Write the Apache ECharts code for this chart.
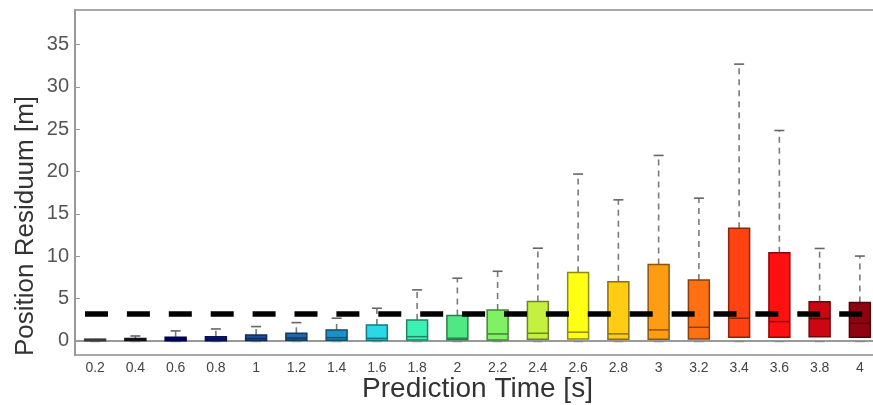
<!DOCTYPE html>
<html>
<head>
<meta charset="utf-8">
<script src="https://cdn.jsdelivr.net/npm/echarts@6/dist/echarts.min.js"></script>
<style>
  html, body { margin: 0; padding: 0; background: #fff; }
  #chart { width: 873px; height: 405px; }
</style>
</head>
<body>
<div id="chart"></div>
<script>
// prediction times (x categories)
var categories = ['0.2', '0.4', '0.6', '0.8', '1', '1.2', '1.4', '1.6', '1.8', '2',
                  '2.2', '2.4', '2.6', '2.8', '3', '3.2', '3.4', '3.6', '3.8', '4'];

// box stats [m]
var lowWhisker = [0, 0, 0, 0, 0, 0, 0, 0, 0, 0, 0, 0, 0, 0, 0, 0, 0, 0, 0, 0];
var q1 =        [0, 0.02, 0, 0, 0.02, 0.05, 0.05, 0.05, 0.08, 0.1, 0.08, 0.15, 0.2, 0.17, 0.17, 0.2, 0.4, 0.4, 0.45, 0.4];
var median =    [0.02, 0.1, 0.15, 0.2, 0.25, 0.3, 0.35, 0.28, 0.47, 0.28, 0.79, 0.87, 1.0, 0.8, 1.27, 1.58, 2.65, 2.25, 2.6, 2.05];
var q3 =        [0.05, 0.25, 0.4, 0.47, 0.67, 0.87, 1.27, 1.86, 2.45, 2.96, 3.63, 4.62, 8.05, 6.95, 9.0, 7.18, 13.3, 10.4, 4.6, 4.5];
var highWhisker = [0.1, 0.55, 1.15, 1.38, 1.66, 2.13, 2.65, 3.83, 6.0, 7.38, 8.2, 10.93, 19.7, 16.65, 21.9, 16.85, 32.7, 24.85, 10.9, 10.0];

// reference level (dashed black line)
var refLevel = 3.12;

var yTicks = [0, 5, 10, 15, 20, 25, 30, 35];

var boxColors = ['#6a6a6a', '#20202c', '#00008c', '#0c1c92', '#1e4e9e', '#1f66aa', '#1c90c8', '#2cd8e8',
                 '#3cf0b4', '#50e884', '#80f064', '#c4f040', '#ffff14', '#ffcc14', '#ff9c12', '#ff7012',
                 '#ff4212', '#ff1010', '#cc0612', '#8e0410'];

function darken(hex, k) {
  var r = parseInt(hex.substr(1, 2), 16), g = parseInt(hex.substr(3, 2), 16), b = parseInt(hex.substr(5, 2), 16);
  return 'rgb(' + Math.round(r * k) + ',' + Math.round(g * k) + ',' + Math.round(b * k) + ')';
}

var boxData = categories.map(function (c, i) {
  return [i, lowWhisker[i], q1[i], median[i], q3[i], highWhisker[i]];
});

var myChart = echarts.init(document.getElementById('chart'));

function renderBox(params, api) {
  var idx = api.value(0);
  var pLow = api.coord([idx, api.value(1)]);
  var pQ1 = api.coord([idx, api.value(2)]);
  var pMed = api.coord([idx, api.value(3)]);
  var pQ3 = api.coord([idx, api.value(4)]);
  var pHigh = api.coord([idx, api.value(5)]);
  var band = api.size([1, 0])[0];
  var w = band * 0.52;
  var x = pQ1[0];
  var col = boxColors[params.dataIndex];
  var edge = darken(col, 0.55);
  var hBox = Math.max(pQ1[1] - pQ3[1], 1.5);
  return {
    type: 'group',
    children: [
      { type: 'line', shape: { x1: x, y1: pQ3[1], x2: x, y2: pHigh[1] },
        style: { stroke: '#7a7a7a', lineWidth: 1.6, lineDash: [6, 5] } },
      { type: 'line', shape: { x1: x - 5, y1: pHigh[1], x2: x + 5, y2: pHigh[1] },
        style: { stroke: '#666', lineWidth: 1.6 } },
      { type: 'line', shape: { x1: x - 5, y1: pLow[1] + 1, x2: x + 5, y2: pLow[1] + 1 },
        style: { stroke: '#888', lineWidth: 1.2 } },
      { type: 'rect', shape: { x: x - w / 2, y: pQ1[1] - hBox, width: w, height: hBox },
        style: { fill: col, stroke: edge, lineWidth: 1.5 } },
      { type: 'line', shape: { x1: x - w / 2, y1: pMed[1], x2: x + w / 2, y2: pMed[1] },
        style: { stroke: edge, lineWidth: 1.5 } }
    ]
  };
}

var option = {
  animation: false,
  backgroundColor: '#fff',
  textStyle: { fontFamily: 'Liberation Sans, Arial, sans-serif' },
  grid: {
    left: 75, top: 10, width: 805, height: 345,
    outerBoundsMode: 'none',
    containLabel: false,
    show: true, borderColor: '#a8a8a8', borderWidth: 2
  },
  xAxis: {
    type: 'category',
    data: categories,
    name: 'Prediction Time [s]',
    nameLocation: 'middle',
    nameGap: 20,
    nameMoveOverlap: false,
    nameTextStyle: { fontSize: 28, color: '#333', verticalAlign: 'top' },
    axisLine: { lineStyle: { color: '#999', width: 2 } },
    axisTick: { show: false },
    axisLabel: { fontSize: 14, color: '#444', margin: 6 }
  },
  yAxis: {
    type: 'value',
    min: -1.7,
    max: 39.1,
    axisLine: { show: true, lineStyle: { color: '#999', width: 2 } },
    axisTick: { show: true, inside: true, length: 5, customValues: yTicks, lineStyle: { color: '#999' } },
    axisLabel: { fontSize: 20, color: '#555', margin: 6, customValues: yTicks },
    splitLine: { show: false }
  },
  graphic: [{
    type: 'text',
    x: 26, y: 226,
    rotation: Math.PI / 2,
    style: {
      text: 'Position Residuum [m]',
      font: '26px Liberation Sans, Arial, sans-serif',
      fill: '#333',
      align: 'center',
      verticalAlign: 'middle'
    }
  }],
  series: [{
    type: 'custom',
    renderItem: renderBox,
    encode: { x: 0, y: [1, 2, 3, 4, 5] },
    data: boxData,
    markLine: {
      silent: true,
      symbol: 'none',
      label: { show: false },
      lineStyle: { color: '#000', width: 5.5, type: [23, 18.9], dashOffset: 31.9 },
      data: [{ yAxis: refLevel }],
      z: 10
    }
  }]
};

myChart.setOption(option);
</script>
</body>
</html>
